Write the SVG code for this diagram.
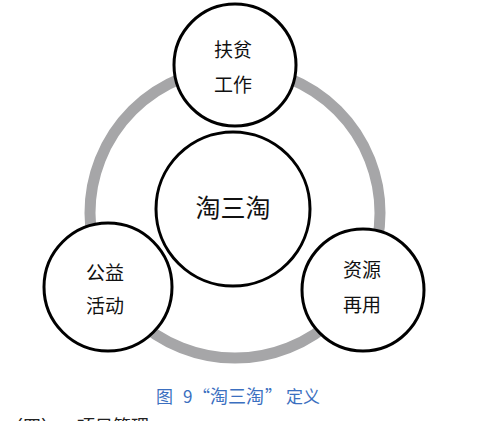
<svg xmlns="http://www.w3.org/2000/svg" width="501" height="421" viewBox="0 0 501 421">
<style>
.node{fill:#fff;stroke:#000;stroke-width:3}
.lbl{font-family:"Noto Sans CJK SC",sans-serif;font-size:19px;fill:#111;text-anchor:middle}
.cap{font-family:"Noto Sans CJK SC",sans-serif;font-size:17px;fill:#3b6fc0}
</style>
<rect width="501" height="421" fill="#fff"/>
<g id="connectors">
<circle cx="235" cy="213" r="145" fill="none" stroke="#a6a6a8" stroke-width="11"/>
</g>
<g id="center">
<circle class="node" cx="233" cy="209" r="77"/>
<text class="lbl" x="233" y="217" style="font-size:25px">淘三淘</text>
</g>
<g id="top">
<circle class="node" cx="235" cy="65" r="61"/>
<text class="lbl" x="233" y="57">扶贫</text>
<text class="lbl" x="233" y="92">工作</text>
</g>
<g id="left">
<circle class="node" cx="108" cy="287" r="64"/>
<text class="lbl" x="105" y="280">公益</text>
<text class="lbl" x="105" y="313">活动</text>
</g>
<g id="right">
<circle class="node" cx="363" cy="290" r="61"/>
<text class="lbl" x="362" y="277">资源</text>
<text class="lbl" x="362" y="312">再用</text>
</g>
<text class="cap" y="403"><tspan x="156">图</tspan><tspan x="183">9</tspan><tspan x="193">“</tspan><tspan x="210" style="font-size:18px">淘三淘</tspan><tspan x="265">”</tspan><tspan x="286">定义</tspan></text>
<text x="5" y="433" style="font-family:'Noto Sans CJK SC',sans-serif;font-size:18px;fill:#222">（四）<tspan x="77">项目管理</tspan></text>
</svg>
